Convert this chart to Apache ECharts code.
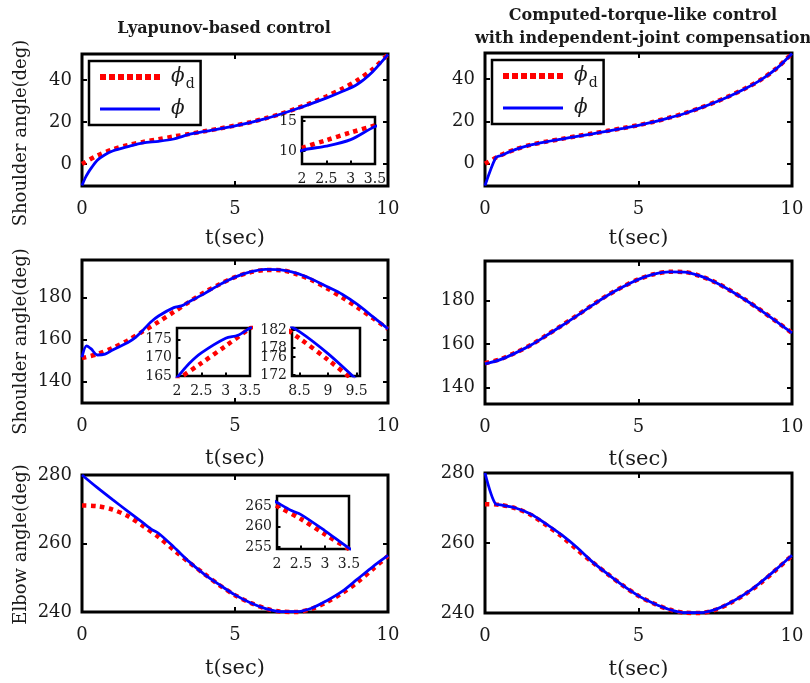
<!DOCTYPE html>
<html>
<head>
<meta charset="utf-8">
<script src="https://cdn.jsdelivr.net/npm/echarts@6/dist/echarts.min.js"></script>
<style>
html, body { margin: 0; padding: 0; background: #fff; }
#chart { width: 810px; height: 683px; }
</style>
</head>
<body>
<div id="chart"></div>
<script>
// time grid of the desired trajectories (sec)
const timeGrid = [0, 0.5, 1, 1.5, 2, 2.5, 3, 3.5, 4, 4.5, 5, 5.5, 6, 6.5, 7, 7.5, 8, 8.5, 9, 9.5, 10];

// shoulder angle, first row (deg)
const shoulderTopDesired = [0, 4.0, 6.9, 9.0, 10.5, 11.8, 13.1, 14.3, 15.6, 16.9, 18.3, 19.9, 21.8, 23.9, 26.4, 29.2, 32.3, 35.8, 39.9, 45.2, 52.2];
const lyapTopTime = [0, 0.1, 0.2, 0.3, 0.5, 0.75, 1, 1.5, 2, 2.5, 3, 3.5, 4, 5, 6, 7, 8, 8.5, 9, 9.5, 10];
const lyapTopActual = [-10.3, -6.8, -4.2, -2.0, 1.8, 4.4, 6.2, 8.3, 10.1, 10.8, 11.9, 14.1, 15.5, 18.1, 21.6, 26.2, 31.5, 34.5, 38.0, 44.0, 52.2];
const ctcTopTime = [0, 0.35, 0.5, 1, 1.5, 2, 2.5, 3, 3.5, 4, 4.5, 5, 5.5, 6, 6.5, 7, 7.5, 8, 8.5, 9, 9.5, 10];
const ctcTopActual = [-10.3, 2.9, 3.8, 6.8, 8.9, 10.4, 11.7, 13.0, 14.2, 15.5, 16.8, 18.2, 19.8, 21.7, 23.8, 26.3, 29.1, 32.2, 35.7, 39.8, 45.1, 52.2];

// shoulder angle, second row (deg)
const shoulderMidDesired = [151.1, 153.0, 156.0, 159.6, 164.0, 168.5, 173.2, 178.0, 182.6, 186.5, 189.9, 192.2, 193.3, 193.2, 191.4, 188.5, 184.6, 180.2, 175.4, 170.3, 165.1];
const lyapMidTime = [0, 0.15, 0.3, 0.5, 0.75, 1, 1.5, 1.75, 2, 2.25, 2.5, 3, 3.25, 3.5, 4, 4.5, 5, 5.5, 6, 6.5, 7, 7.5, 8, 8.5, 9, 9.5, 10];
const lyapMidActual = [151.5, 157.0, 155.5, 152.6, 153.0, 155.0, 158.6, 161.0, 164.6, 168.4, 171.3, 175.3, 176.1, 178.1, 182.0, 186.3, 189.9, 192.4, 193.6, 193.4, 191.8, 189.0, 185.4, 181.7, 176.8, 171.0, 165.1];
const ctcMidActual = [150.8, 152.8, 155.9, 159.5, 163.9, 168.4, 173.1, 177.9, 182.5, 186.4, 189.8, 192.2, 193.3, 193.2, 191.4, 188.5, 184.6, 180.2, 175.4, 170.3, 165.1];

// elbow angle, third row (deg)
const elbowDesired = [271.1, 270.9, 269.9, 268.0, 265.1, 261.9, 258.1, 254.5, 251.1, 247.8, 244.9, 242.7, 241.0, 240.1, 240.0, 240.9, 242.9, 245.5, 248.7, 252.5, 256.4];
const lyapElbowTime = [0, 0.5, 1, 1.5, 2, 2.3, 2.5, 3, 3.5, 4, 4.5, 5, 5.5, 6, 6.5, 7, 7.5, 8, 8.5, 9, 9.5, 10];
const lyapElbowActual = [280, 276.3, 272.8, 269.4, 266.0, 264.0, 263.0, 259.0, 254.7, 251.0, 247.9, 245.0, 242.7, 241.0, 240.1, 240.1, 241.1, 243.3, 246.0, 249.6, 253.2, 256.5];
const ctcElbowTime = [0, 0.35, 0.5, 1, 1.5, 2, 2.5, 3, 3.5, 4, 4.5, 5, 5.5, 6, 6.5, 7, 7.5, 8, 8.5, 9, 9.5, 10];
const ctcElbowActual = [280, 271.1, 270.9, 270.0, 268.2, 265.4, 262.3, 258.7, 254.6, 251.1, 247.8, 244.9, 242.7, 241.0, 240.1, 240.1, 241.0, 243.0, 245.6, 248.9, 252.6, 256.5];

// tick labels
const timeTicks = [0, 5, 10];
const shoulderTopTicks = [0, 20, 40];
const shoulderMidTicks = [140, 160, 180];
const elbowTicks = [240, 260, 280];
const insetTimeTicks = [2, 2.5, 3, 3.5];
const insetLateTimeTicks = [8.5, 9, 9.5];
const insetTopTicks = [10, 15];
const insetMidTicks = [165, 170, 175];
const insetLateTicks = [172, 174, 176, 178, 180, 182];
const insetElbowTicks = [255, 260, 265];

const FONT = 'DejaVu Serif';
const INK = '#1a1a1a';
const RED_DOTS = { color: '#ff0000', width: 4.5, type: [4.5, 4.5], cap: 'butt' };
const BLUE_LINE = { color: '#0000ff', width: 2.8 };

function pairs(t, v) {
  return t.map((x, i) => [x, v[i]]);
}

// main panels: left column = Lyapunov, right column = computed-torque
const panels = [
  { box: { left: 82, top: 54, width: 306, height: 132 }, y: [-10.5, 52.4], yTicks: shoulderTopTicks,
    desired: pairs(timeGrid, shoulderTopDesired), actual: pairs(lyapTopTime, lyapTopActual), yName: 'Shoulder angle(deg)', namePad: 26, nameGap: 42 },
  { box: { left: 485, top: 53, width: 307, height: 133 }, y: [-10.5, 52.4], yTicks: shoulderTopTicks,
    desired: pairs(timeGrid, shoulderTopDesired), actual: pairs(ctcTopTime, ctcTopActual), nameGap: 42 },
  { box: { left: 82, top: 260, width: 306, height: 143 }, y: [129.6, 198.1], yTicks: shoulderMidTicks,
    desired: pairs(timeGrid, shoulderMidDesired), actual: pairs(lyapMidTime, lyapMidActual), yName: 'Shoulder angle(deg)', namePad: 20, nameGap: 45 },
  { box: { left: 485, top: 261, width: 307, height: 143 }, y: [132.3, 198.3], yTicks: shoulderMidTicks,
    desired: pairs(timeGrid, shoulderMidDesired), actual: pairs(timeGrid, ctcMidActual), nameGap: 45 },
  { box: { left: 82, top: 475, width: 306, height: 137 }, y: [240, 280], yTicks: elbowTicks,
    desired: pairs(timeGrid, elbowDesired), actual: pairs(lyapElbowTime, lyapElbowActual), yName: 'Elbow angle(deg)', namePad: 2, nameGap: 46 },
  { box: { left: 485, top: 473, width: 307, height: 140 }, y: [240, 280], yTicks: elbowTicks,
    desired: pairs(timeGrid, elbowDesired), actual: pairs(ctcElbowTime, ctcElbowActual), nameGap: 46 }
];

// zoomed insets of the Lyapunov column
const insets = [
  { box: { left: 302, top: 117, width: 73, height: 47 }, x: [2, 3.5], xTicks: insetTimeTicks, y: [7.8, 15.7], yTicks: insetTopTicks, src: 0 },
  { box: { left: 177, top: 328, width: 73, height: 48 }, x: [2, 3.5], xTicks: insetTimeTicks, y: [165, 178.1], yTicks: insetMidTicks, src: 2 },
  { box: { left: 292, top: 328, width: 68, height: 48 }, x: [8.37, 9.56], xTicks: insetLateTimeTicks, y: [171.8, 182.5], yTicks: insetLateTicks, src: 2 },
  { box: { left: 277, top: 496, width: 72, height: 53 }, x: [2, 3.5], xTicks: insetTimeTicks, y: [254.5, 267.6], yTicks: insetElbowTicks, src: 4 }
];

function axis(gridIndex, range, ticks, o) {
  return {
    type: 'value',
    gridIndex: gridIndex,
    min: range[0],
    max: range[1],
    position: o.position,
    z: o.z || 2,
    name: o.name,
    nameLocation: 'middle',
    nameGap: o.nameGap,
    nameTextStyle: { fontFamily: FONT, fontSize: o.nameSize || 18, color: INK, padding: o.namePadding || 0 },
    axisLine: { show: false, onZero: false },
    splitLine: { show: false },
    axisTick: { inside: true, length: o.tickLen || 5, customValues: ticks, lineStyle: { color: '#000', width: 2 } },
    axisLabel: { show: o.labels !== false, customValues: ticks, fontFamily: FONT, fontSize: o.fontSize || 18,
      color: INK, margin: o.margin || 10, showMinLabel: true, showMaxLabel: true, hideOverlap: false }
  };
}

const grids = [];
const xAxes = [];
const yAxes = [];
const series = [];

function lineSeries(name, data, xi, z, clip) {
  return {
    type: 'line', name: name, data: data, xAxisIndex: xi, yAxisIndex: xi,
    symbol: 'none', smooth: 0.3, clip: clip, z: z, silent: true,
    lineStyle: name === 'phi_d' ? RED_DOTS : BLUE_LINE
  };
}

panels.forEach((p, i) => {
  grids.push(Object.assign({ show: true, borderColor: '#000', borderWidth: 3, backgroundColor: 'transparent', z: 0 }, p.box));
  xAxes.push(axis(i, [0, 10], timeTicks, { position: 'bottom', name: 't(sec)', nameGap: p.nameGap, nameSize: 21, margin: 14 }));
  yAxes.push(axis(i, p.y, p.yTicks, { position: 'left', name: p.yName, nameGap: 52,
    namePadding: [0, p.namePad || 0, 0, 0] }));
  series.push(lineSeries('phi_d', p.desired, i, 3, false));
  series.push(lineSeries('phi', p.actual, i, 4, false));
});

insets.forEach((s, k) => {
  const gi = panels.length + k;
  const src = panels[s.src];
  grids.push(Object.assign({ show: true, borderColor: '#000', borderWidth: 2.5, backgroundColor: '#fff', z: 10 }, s.box));
  xAxes.push(axis(gi, s.x, s.xTicks, { position: 'bottom', z: 11, fontSize: 14, margin: 8, tickLen: 3.5 }));
  yAxes.push(axis(gi, s.y, s.yTicks, { position: 'left', z: 11, fontSize: 14, margin: 5, tickLen: 3.5 }));
  series.push(lineSeries('phi_d', src.desired, gi, 12, true));
  series.push(lineSeries('phi', src.actual, gi, 13, true));
});

// mirrored ticks on the top and right edges of the main panels
panels.forEach((p, i) => {
  xAxes.push(axis(i, [0, 10], timeTicks, { position: 'top', labels: false }));
  yAxes.push(axis(i, p.y, p.yTicks, { position: 'right', labels: false }));
});

function legendAt(left, top) {
  return {
    left: left, top: top, orient: 'vertical',
    data: [
      { name: 'phi_d', lineStyle: { color: '#ff0000', width: 6, type: [6, 3], cap: 'butt' } },
      { name: 'phi', lineStyle: { color: '#0000ff', width: 3 } }
    ],
    selectedMode: false,
    itemWidth: 60, itemHeight: 12, itemGap: 8,
    itemStyle: { opacity: 0 },
    padding: [6, 6, 6, 8],
    backgroundColor: '#fff', borderColor: '#000', borderWidth: 2.5,
    formatter: n => n === 'phi_d' ? '{v|ϕ}{s|d}' : '{v|ϕ}',
    textStyle: {
      padding: [0, 0, 0, 6],
      rich: {
        v: { fontFamily: FONT, fontStyle: 'italic', fontSize: 20, color: INK },
        s: { fontFamily: FONT, fontSize: 14, color: INK, padding: [14, 0, 0, 1] }
      }
    }
  };
}

const option = {
  animation: false,
  backgroundColor: '#fff',
  grid: grids,
  xAxis: xAxes,
  yAxis: yAxes,
  legend: [legendAt(89, 61), legendAt(492, 60)],
  graphic: [
    { type: 'text', x: 224, y: 29, style: { text: 'Lyapunov-based control', font: 'bold 16px "DejaVu Serif"',
      fill: INK, textAlign: 'center', textVerticalAlign: 'middle' } },
    { type: 'text', x: 643, y: 27, style: { text: 'Computed-torque-like control\nwith independent-joint compensation',
      font: 'bold 16px "DejaVu Serif"', lineHeight: 23, fill: INK, textAlign: 'center', textVerticalAlign: 'middle' } }
  ],
  series: series
};

const chart = echarts.init(document.getElementById('chart'));
chart.setOption(option);
</script>
</body>
</html>
